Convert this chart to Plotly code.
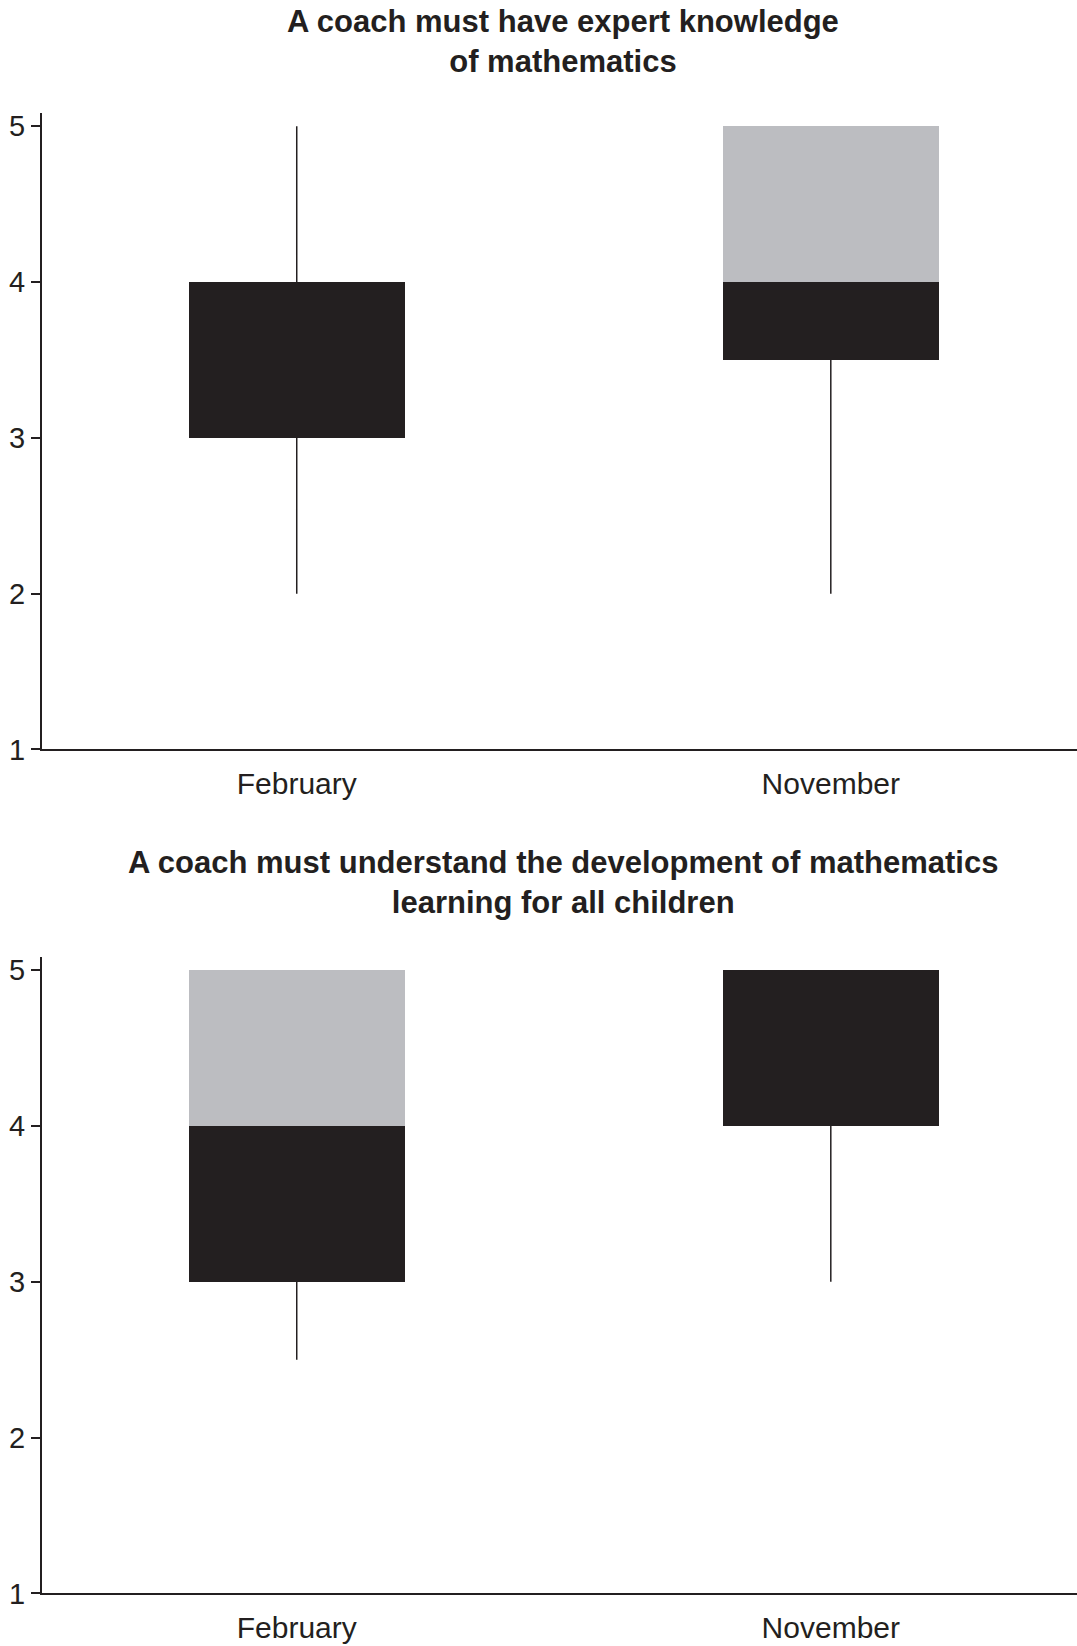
import plotly.graph_objects as go

# ---- data ----
categories = ["February", "November"]
titles = [
    "A coach must have expert knowledge<br>of mathematics",
    "A coach must understand the development of mathematics<br>learning for all children",
]
# panel 1
p1_low = [2, 2]
p1_q1 = [3, 3.5]
p1_median = [4, 4]
p1_q3 = [4, 5]
p1_high = [5, 5]
# panel 2
p2_low = [2.5, 3]
p2_q1 = [3, 4]
p2_median = [4, 5]
p2_q3 = [5, 5]
p2_high = [5, 5]

y_ticks = [1, 2, 3, 4, 5]

panels = [
    (p1_low, p1_q1, p1_median, p1_q3, p1_high),
    (p2_low, p2_q1, p2_median, p2_q3, p2_high),
]

DARK = "#231f20"
GREY = "#bcbdc1"

fig = go.Figure()
domains = [[0.5447, 0.9313], [0.0319, 0.4186]]

for i, (low, q1, med, q3, high) in enumerate(panels):
    xa = "x" if i == 0 else "x2"
    ya = "y" if i == 0 else "y2"
    # whisker segments (low->q1, q3->high)
    wx, wy = [], []
    for c, lo, a, b, hi in zip(categories, low, q1, q3, high):
        wx += [c, c, None, c, c, None]
        wy += [lo, a, None, b, hi, None]
    fig.add_trace(go.Scatter(x=wx, y=wy, mode="lines",
                             line=dict(color=DARK, width=1.5),
                             xaxis=xa, yaxis=ya, showlegend=False, hoverinfo="skip"))
    # lower part of box: q1 -> median (black)
    fig.add_trace(go.Bar(x=categories, y=[m - a for m, a in zip(med, q1)], base=q1,
                         marker=dict(color=DARK, line=dict(width=0)), width=0.405,
                         xaxis=xa, yaxis=ya, showlegend=False))
    # upper part of box: median -> q3 (grey)
    fig.add_trace(go.Bar(x=categories, y=[b - m for b, m in zip(q3, med)], base=med,
                         marker=dict(color=GREY, line=dict(width=0)), width=0.405,
                         xaxis=xa, yaxis=ya, showlegend=False))

axis_x = dict(range=[-0.477, 1.461], showline=True, linecolor=DARK, linewidth=2,
              ticks="", showgrid=False, zeroline=False, automargin=False,
              tickfont=dict(family="Liberation Sans", size=30, color=DARK),
              ticklabelstandoff=7, fixedrange=True)
axis_y = dict(range=[1, 5.085], tickvals=y_ticks, showline=True, linecolor=DARK, linewidth=2,
              ticks="outside", ticklen=9, tickwidth=1.5, tickcolor=DARK,
              showgrid=False, zeroline=False, automargin=False,
              tickfont=dict(family="Liberation Sans", size=29, color=DARK),
              ticklabelstandoff=0, fixedrange=True)

fig.update_layout(
    width=1077, height=1646,
    margin=dict(l=42, r=0, t=0, b=0, autoexpand=False),
    paper_bgcolor="white", plot_bgcolor="white",
    barmode="overlay", bargap=0,
    xaxis=dict(axis_x, domain=[0, 1], anchor="y"),
    yaxis=dict(axis_y, domain=domains[0], anchor="x"),
    xaxis2=dict(axis_x, domain=[0, 1], anchor="y2"),
    yaxis2=dict(axis_y, domain=domains[1], anchor="x2"),
)

title_y = [1 - 41.5 / 1646, 1 - 882 / 1646]
for t, ty in zip(titles, title_y):
    fig.add_annotation(text=t, xref="paper", yref="paper", x=0.503, y=ty,
                       xanchor="center", yanchor="middle", showarrow=False,
                       font=dict(family="Liberation Sans", size=31, color=DARK, weight="bold"))

fig.write_html("out.html", config={"displayModeBar": False},
               post_script="document.body.style.margin='0';document.body.style.overflow='hidden';")
